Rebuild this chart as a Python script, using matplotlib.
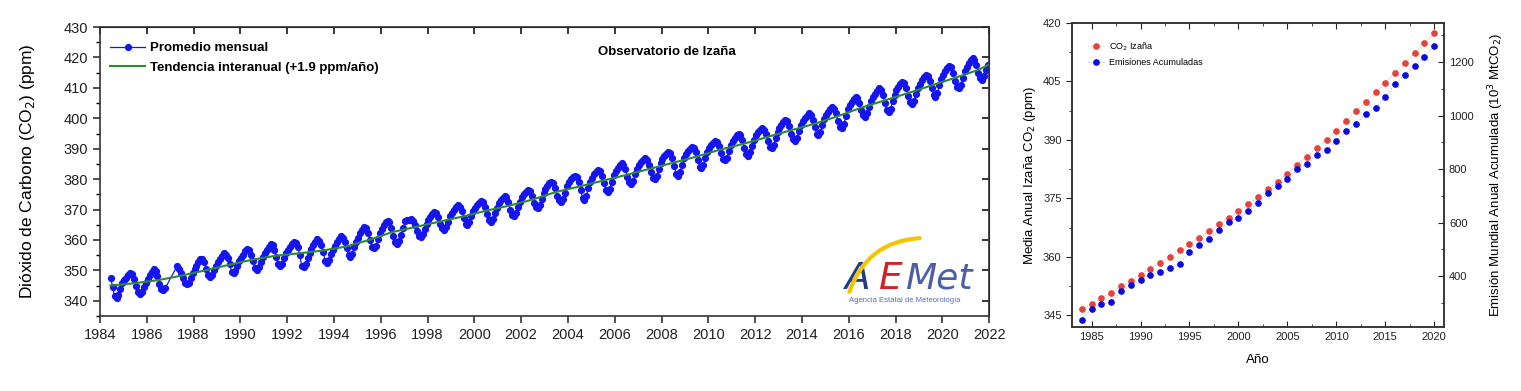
import numpy as np
import matplotlib
matplotlib.use('Agg')
from matplotlib import pyplot as plt
from matplotlib.patches import FancyArrowPatch
from matplotlib.ticker import MultipleLocator

plt.rcParams['font.family'] = ['Liberation Sans', 'DejaVu Sans']

# --- panel izquierdo: serie mensual Izaña (empieza en junio 1984) ---
inicio_anio = 1984
inicio_mes = 6
nan = np.nan
co2_mensual = [
    347.5, 344.6, 341.5, 341.0, 341.8, 344.0, 346.0,  # 1984 jun-dic
    346.8, 347.6, 348.4, 349.0, 348.8, 347.2, 345.0, 342.8, 342.1, 342.8, 344.5, 346.0,  # 1985
    347.3, 348.4, 349.6, 350.6, 349.8, 348.0, 345.6, 343.9, 343.5, 344.2, nan, nan,  # 1986
    nan, nan, nan, 351.3, 350.5, 349.0, 347.5, 346.0, 345.6, 346.0, 347.6, 349.2,  # 1987
    350.5, 351.6, 352.8, 353.8, 353.9, 352.6, 350.5, 348.5, 347.9, 348.6, 350.2, 351.6,  # 1988
    352.6, 353.6, 354.6, 355.6, 355.2, 354.0, 352.0, 349.6, 349.0, 349.8, 351.6, 353.0,  # 1989
    354.2, 355.2, 356.3, 357.0, 356.6, 355.2, 353.0, 350.7, 350.1, 351.0, 352.8, 354.4,  # 1990
    355.6, 356.6, 357.6, 358.6, 358.2, 356.6, 354.5, 352.0, 351.4, 352.2, 354.0, 355.6,  # 1991
    356.8, 357.8, 358.8, 359.4, 359.0, 357.6, 355.0, 351.6, 351.0, 352.0, 354.2, 355.8,  # 1992
    357.0, 358.2, 359.4, 360.2, 359.8, 358.4, 356.0, 353.2, 352.5, 353.4, 355.4, 356.8,  # 1993
    358.0, 359.2, 360.4, 361.2, 360.8, 359.4, 357.4, 355.2, 354.5, 355.4, 357.6, 359.4,  # 1994
    360.8, 362.2, 363.4, 364.3, 363.8, 362.2, 360.0, 357.8, 357.2, 358.0, 360.2, 362.2,  # 1995
    363.6, 364.8, 365.8, 366.3, 365.8, 364.0, 361.4, 359.4, 358.8, 359.8, 361.6, 363.8,  # 1996
    366.3, 366.6, 366.7, 366.8, 366.4, 365.0, 363.0, 361.4, 361.0, 361.8, 363.6, 365.4,  # 1997
    366.6, 367.6, 368.6, 369.3, 368.8, 367.4, 365.2, 363.8, 363.4, 364.2, 366.0, 367.8,  # 1998
    369.0, 370.0, 370.8, 371.4, 371.0, 369.6, 367.2, 365.4, 364.9, 365.8, 367.8, 369.4,  # 1999
    370.6, 371.6, 372.3, 372.8, 372.4, 371.0, 368.6, 366.5, 366.0, 366.9, 368.8, 370.6,  # 2000
    372.0, 373.0, 373.8, 374.4, 374.0, 372.4, 370.0, 368.3, 367.8, 368.8, 370.8, 372.6,  # 2001
    374.0, 375.0, 375.9, 376.4, 376.0, 374.4, 372.0, 370.9, 370.4, 371.4, 373.4, 375.4,  # 2002
    376.8, 377.8, 378.6, 379.1, 378.6, 377.0, 374.6, 373.0, 372.5, 373.5, 375.6, 377.6,  # 2003
    379.0, 379.9, 380.6, 381.0, 380.6, 379.0, 376.4, 373.9, 373.3, 374.6, 377.0, 379.0,  # 2004
    380.4, 381.6, 382.4, 383.0, 382.6, 381.0, 378.6, 376.4, 375.8, 376.8, 379.0, 381.2,  # 2005
    382.6, 383.8, 384.6, 385.2, 384.8, 383.2, 380.8, 378.9, 378.4, 379.4, 381.6, 383.4,  # 2006
    384.6, 385.6, 386.3, 386.8, 386.4, 384.8, 382.4, 380.4, 379.9, 381.0, 383.2, 385.2,  # 2007
    386.6, 387.6, 388.4, 389.0, 388.6, 387.0, 384.2, 381.6, 381.0, 382.2, 384.6, 386.8,  # 2008
    388.2, 389.2, 390.0, 390.6, 390.2, 388.8, 386.4, 384.0, 383.5, 384.6, 386.8, 388.8,  # 2009
    390.2, 391.2, 392.0, 392.6, 392.2, 390.8, 388.6, 386.7, 386.2, 387.0, 389.2, 391.2,  # 2010
    392.6, 393.6, 394.4, 395.0, 394.6, 393.0, 390.4, 388.2, 387.6, 388.8, 391.0, 393.0,  # 2011
    394.4, 395.4, 396.2, 396.7, 396.3, 395.0, 392.6, 390.6, 390.1, 391.2, 393.4, 395.4,  # 2012
    396.8, 397.9, 398.9, 399.6, 399.2, 397.6, 395.0, 393.2, 392.6, 393.6, 395.8, 397.8,  # 2013
    399.0, 400.0, 400.9, 401.6, 401.2, 399.6, 397.0, 395.0, 394.5, 395.6, 397.8, 399.8,  # 2014
    401.0, 402.0, 402.9, 403.6, 403.2, 401.6, 399.2, 397.2, 396.7, 398.0, 400.6, 403.0,  # 2015
    404.4, 405.5, 406.4, 407.1, 406.7, 405.0, 402.6, 401.0, 400.5, 401.6, 403.8, 405.8,  # 2016
    407.0, 408.1, 409.1, 409.8, 409.4, 407.8, 405.0, 402.6, 402.1, 403.2, 405.6, 407.8,  # 2017
    409.2, 410.4, 411.3, 412.0, 411.6, 410.0, 407.4, 405.2, 404.7, 405.8, 408.0, 410.0,  # 2018
    411.4, 412.6, 413.5, 414.2, 413.8, 412.2, 409.8, 407.6, 407.1, 408.4, 410.8, 413.0,  # 2019
    414.4, 415.6, 416.5, 417.2, 416.8, 415.0, 412.4, 410.3, 409.8, 411.0, 413.4, 415.6,  # 2020
    417.0, 418.2, 419.1, 419.7, 419.3, 417.6, 415.0, 413.1, 412.6, 413.8, 415.8, 417.4,  # 2021
]

tendencia_x = [1984.45, 1985.5, 1986.5, 1987.5, 1988.5, 1989.5, 1990.5, 1991.5, 1992.5,
               1993.5, 1994.5, 1995.5, 1996.5, 1997.5, 1998.5, 1999.5, 2000.5, 2001.5,
               2002.5, 2003.5, 2004.5, 2005.5, 2006.5, 2007.5, 2008.5, 2009.5, 2010.5,
               2011.5, 2012.5, 2013.5, 2014.5, 2015.5, 2016.5, 2017.5, 2018.5, 2019.5,
               2020.5, 2021.5, 2021.96]
tendencia_ppm = [345.0, 345.8, 346.8, 348.3, 350.0, 351.8, 353.5, 354.8, 355.6, 356.5,
                 357.8, 360.0, 362.6, 364.3, 366.0, 367.7, 369.6, 371.3, 373.3, 375.8,
                 377.6, 379.5, 381.4, 383.4, 385.4, 387.4, 389.7, 391.6, 393.8, 396.0,
                 398.1, 400.6, 403.4, 405.8, 408.2, 410.7, 413.2, 415.8, 417.5]

# --- panel derecho: medias anuales ---
anios = list(range(1984, 2021))
co2_izana = [346.5, 347.9, 349.4, 350.8, 352.4, 353.9, 355.4, 357.0, 358.5, 360.0,
             361.7, 363.3, 364.9, 366.6, 368.3, 370.0, 371.7, 373.5, 375.3, 377.3,
             379.3, 381.3, 383.5, 385.7, 387.9, 390.1, 392.4, 394.8, 397.3, 399.7,
             402.2, 404.7, 407.1, 409.7, 412.3, 414.8, 417.4]
emisiones_acum = [237, 278, 295, 303, 344, 366, 385, 406, 416, 429, 446, 489, 517, 540,
                  571, 601, 619, 642, 672, 709, 735, 764, 799, 820, 851, 871, 905, 941,
                  967, 1007, 1027, 1068, 1118, 1153, 1186, 1220, 1261]

co2_m = np.array(co2_mensual)
fechas = inicio_anio + (inicio_mes - 1 + np.arange(len(co2_m)) + 0.5) / 12.0
ok = ~np.isnan(co2_m)  # los huecos se unen con linea recta, como en el original

fig = plt.figure(figsize=(15.21, 3.91), dpi=100)
ax = fig.add_axes([0.0657, 0.1918, 0.5846, 0.739])

ax.plot(fechas[ok], co2_m[ok], '-', color='#1515f0', lw=0.9, marker='o', ms=4.2,
        mec='#1515f0', mfc='#1515f0', label='Promedio mensual', zorder=2)
ax.plot(tendencia_x, tendencia_ppm, '-', color='#2e8b2e', lw=1.5,
        label='Tendencia interanual (+1.9 ppm/año)', zorder=3)

ax.set_xlim(1984, 2022)
ax.set_ylim(335, 430)
ax.set_xticks(range(1984, 2023, 2))
ax.set_yticks(range(340, 431, 10))
ax.yaxis.set_minor_locator(MultipleLocator(5))
ax.tick_params(axis='both', which='major', labelsize=10.5, colors='#222222', length=5, width=1.1)
ax.tick_params(axis='y', which='minor', length=3, width=1.0)
for s in ax.spines.values():
    s.set_linewidth(1.2)
    s.set_color('#333333')
top = ax.secondary_xaxis('top')
top.set_xticks(range(1984, 2023, 2))
top.tick_params(direction='in', labeltop=False, length=5, width=1.1)
right = ax.secondary_yaxis('right')
right.set_yticks(range(340, 431, 10))
right.tick_params(direction='in', labelright=False, length=5, width=1.1)

ax.set_ylabel('Dióxido de Carbono (CO$_2$) (ppm)', fontsize=12.5)
ax.yaxis.set_label_coords(-0.071, 0.5)

ax.legend(loc='upper left', bbox_to_anchor=(0.0, 0.985), frameon=False,
          prop={'weight': 'bold', 'size': 9.5}, handlelength=2.6, handletextpad=0.4,
          labelspacing=0.55, borderaxespad=0.4)
ax.text(0.638, 0.915, 'Observatorio de Izaña', transform=ax.transAxes, ha='center',
        va='center', fontsize=9.5, fontweight='bold')

# logo AEMet aproximado
ax.text(0.838, 0.095, 'A', transform=ax.transAxes, fontsize=27, color='#1f3c88',
        style='italic', family='DejaVu Sans', fontweight='light')
ax.text(0.876, 0.095, 'E', transform=ax.transAxes, fontsize=27, color='#d42027',
        style='italic', family='DejaVu Sans')
ax.text(0.905, 0.095, 'Met', transform=ax.transAxes, fontsize=26, color='#4a5fa8',
        style='italic', family='DejaVu Sans')
ax.add_patch(FancyArrowPatch((0.842, 0.075), (0.925, 0.27), transform=ax.transAxes,
                             arrowstyle='-', connectionstyle='arc3,rad=-0.35',
                             color='#f2c500', lw=3, zorder=5))
ax.text(0.905, 0.055, 'Agencia Estatal de Meteorología', transform=ax.transAxes,
        ha='center', va='center', fontsize=5.5, color='#5a6fb0')

# --- panel derecho ---
axr = fig.add_axes([0.7048, 0.1637, 0.2446, 0.7775])
ax2 = axr.twinx()
l1, = axr.plot(anios, co2_izana, linestyle=':', lw=0.8, color='#f4b4b4', marker='o',
               ms=3.8, mfc='#e8413c', mec='#e8413c', label='CO$_2$ Izaña')
l2, = ax2.plot(anios, emisiones_acum, linestyle=':', lw=0.8, color='#b8b8f4', marker='o',
               ms=3.8, mfc='#0a0ae0', mec='#0a0ae0', label='Emisiones Acumuladas')

axr.set_xlim(1983, 2021)
axr.set_ylim(342, 420)
ax2.set_ylim(210, 1346)
axr.set_xticks(range(1985, 2021, 5))
axr.xaxis.set_minor_locator(MultipleLocator(2.5))
axr.set_yticks([345, 360, 375, 390, 405, 420])
axr.yaxis.set_minor_locator(MultipleLocator(7.5))
ax2.set_yticks([400, 600, 800, 1000, 1200])
ax2.yaxis.set_minor_locator(MultipleLocator(100))

axr.tick_params(axis='y', which='both', direction='out', labelsize=8, colors='#222222')
axr.tick_params(axis='x', which='both', direction='in', top=True, labelsize=8, colors='#222222')
axr.tick_params(which='major', length=4)
axr.tick_params(which='minor', length=2.5)
ax2.tick_params(axis='y', which='both', direction='in', labelsize=8, colors='#222222')
ax2.tick_params(which='major', length=4)
ax2.tick_params(which='minor', length=2.5)
for a in (axr, ax2):
    for s in a.spines.values():
        s.set_linewidth(1.1)
        s.set_color('#333333')

axr.set_ylabel('Media Anual Izaña CO$_2$ (ppm)', fontsize=9.5)
axr.yaxis.set_label_coords(-0.092, 0.5)
ax2.set_ylabel('Emisión Mundial Anual Acumulada (10$^3$ MtCO$_2$)', fontsize=9.5)
ax2.yaxis.set_label_coords(1.113, 0.5)
axr.set_xlabel('Año', fontsize=9.5)
axr.xaxis.set_label_coords(0.5, -0.089)

axr.legend(handles=[l1, l2], loc='upper left', bbox_to_anchor=(0.02, 0.97), frameon=False,
           fontsize=6.5, handlelength=1.8, handletextpad=0.6, labelspacing=0.6)

fig.savefig('out.png', dpi=100)
